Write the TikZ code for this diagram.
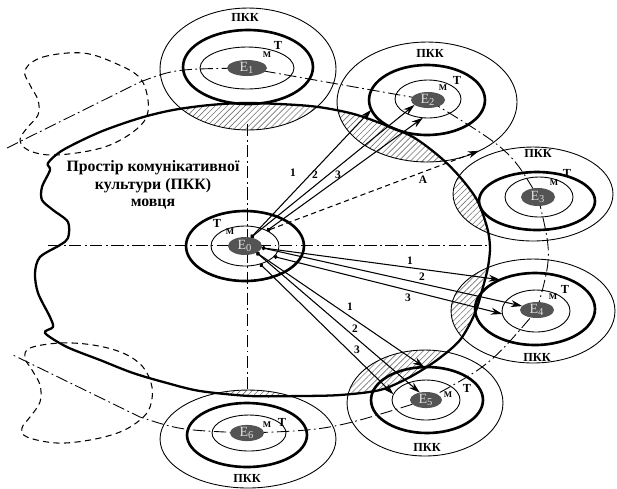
\documentclass[tikz,border=0pt]{standalone}
\usepackage{fontspec}
\setmainfont{Liberation Serif}
\usetikzlibrary{shapes.geometric,arrows.meta,patterns.meta}

\tikzset{
  ring/.style 2 args={draw, ellipse, inner sep=0pt, outer sep=0pt,
    minimum width=#1*0.04cm, minimum height=#2*0.04cm},
  pkkring/.style 2 args={ring={#1}{#2}, line width=0.5pt},
  tring/.style 2 args={ring={#1}{#2}, line width=1.5pt},
  mring/.style 2 args={ring={#1}{#2}, line width=0.5pt},
  core/.style 2 args={ring={#1}{#2}, draw=none, fill=black!67, text=black!12,
    font=\fontsize{8}{8}\selectfont},
  tag/.style={inner sep=0pt, font=\bfseries\fontsize{7}{7}\selectfont},
  mtag/.style={inner sep=0pt, font=\bfseries\fontsize{5}{5}\selectfont},
  numtag/.style={inner sep=0pt, font=\bfseries\fontsize{6.5}{6.5}\selectfont},
  axis/.style={line width=0.5pt, dash pattern=on 7pt off 2pt on 1pt off 2pt},
  ghost/.style={line width=0.6pt, dash pattern=on 3.5pt off 2.5pt},
  link/.style={line width=0.6pt, {Circle[length=2.2pt]}-{Stealth[length=6.5pt,width=4pt]}},
  hatch/.style={pattern={Lines[angle=45,distance=2.4pt,line width=0.35pt]},
    pattern color=black!55},
}

\newcommand{\pkkborder}{plot[smooth cycle, tension=0.5] coordinates {
  (48,163) (63,150) (100,132) (140,118) (173,110) (210,105) (250,103)
  (310,106) (350,113) (380,123) (413,137) (440,157) (460,177) (477,200)
  (487,227) (490,247) (488,267) (483,287) (475,313) (460,340) (437,360)
  (410,377) (380,390) (340,395) (300,396) (250,396) (200,391) (167,383)
  (133,373) (100,360) (67,347) (45,333) (53,327) (50,317) (38,293)
  (35,273) (40,257) (60,245) (68,238) (68,222) (53,210) (42,200)
  (42,187) (50,170)}}

\begin{document}
\begin{tikzpicture}[x=0.02cm, y=-0.02cm]
  \useasboundingbox (0,0) rectangle (617,488);

  % hatched overlaps
  \begin{scope}
    \clip \pkkborder;
    \fill[hatch] (248,69) ellipse [x radius=88, y radius=61];
    \fill[hatch] (427,102) ellipse [x radius=90, y radius=60];
    \fill[hatch] (533,194) ellipse [x radius=80, y radius=47];
    \fill[hatch] (533,311) ellipse [x radius=82, y radius=52];
    \fill[hatch] (425,403) ellipse [x radius=78, y radius=53];
    \fill[hatch] (248,439) ellipse [x radius=88, y radius=49];
  \end{scope}

  % left dashed shapes
  \draw[ghost] plot[smooth cycle, tension=0.6] coordinates {(25,70) (43,57) (83,53)
    (117,64) (140,78) (148,100) (146,118) (133,132) (110,145) (83,152) (50,155)
    (28,150) (20,140) (27,128) (38,115) (38,100) (30,85)};
  \draw[ghost] plot[smooth cycle, tension=0.6] coordinates {(25,358) (30,348) (60,343)
    (93,345) (123,353) (143,367) (152,387) (150,407) (140,420) (120,432) (90,440)
    (57,443) (27,437) (22,428) (30,417) (40,402) (40,385) (32,370)};

  % rings
  \node[pkkring={88}{61}] (p1) at (248,69) {};
  \node[pkkring={90}{60}] (p2) at (427,102) {};
  \node[pkkring={80}{47}] (p3) at (533,194) {};
  \node[pkkring={82}{52}] (p4) at (533,311) {};
  \node[pkkring={78}{53}] (p5) at (425,403) {};
  \node[pkkring={88}{49}] (p6) at (248,439) {};

  \node[tring={59}{35}] (t0) at (245,246) {};
  \node[tring={65}{37}] (t1) at (248,67) {};
  \node[tring={58}{35}] (t2) at (427,100) {};
  \node[tring={58}{29}] (t3) at (537,201) {};
  \node[tring={60}{36}] (t4) at (535,309) {};
  \node[tring={56}{33}] (t5) at (427,400) {};
  \node[tring={60}{32}] (t6) at (247,435) {};

  \node[mring={34}{20}] (m0) at (245,246) {};
  \node[mring={47}{21}] (m1) at (247,68) {};
  \node[mring={33}{19}] (m2) at (428,99) {};
  \node[mring={34}{20}] (m3) at (539,197) {};
  \node[mring={34}{21}] (m4) at (536,311) {};
  \node[mring={34}{20}] (m5) at (426,400) {};
  \node[mring={37}{18}] (m6) at (249,433) {};

  % axes and chain of partners
  \coordinate (axl) at (48,245);
  \coordinate (axr) at (488,245);
  \coordinate (axt) at (247,124);
  \coordinate (axb) at (247,392);
  \coordinate (lt) at (7,148);
  \coordinate (lb) at (13,355);
  \draw[axis] (axl) -- (axr);
  \draw[axis] (axt) -- (axb);
  \draw[axis] (lt) -- (140,82) .. controls (175,69) .. (247,68)
    -- (428,100) .. controls (510,150) .. (538,197)
    .. controls (552,255) .. (537,310) .. controls (490,365) .. (426,400)
    .. controls (330,430) .. (247,433) .. controls (180,430) .. (140,417) -- (lb);

  % speaker's space
  \draw[line width=1.3pt] \pkkborder;

  % cores
  \node[core={17}{9}] (e0) at (245,246) {E\textsubscript{0}};
  \node[core={20}{8}] (e1) at (247,68) {E\textsubscript{1}};
  \node[core={17}{8}] (e2) at (428,100) {E\textsubscript{2}};
  \node[core={17}{9}] (e3) at (538,197) {E\textsubscript{3}};
  \node[core={17}{8}] (e4) at (537,310) {E\textsubscript{4}};
  \node[core={16}{8}] (e5) at (426,400) {E\textsubscript{5}};
  \node[core={17}{7}] (e6) at (247,433) {E\textsubscript{6}};

  % links
  \draw[link] (e0.55) -- (t2.190);
  \draw[link] (e0.55) -- (e2.200);
  \draw[link] (m0.35) -- (m2.-105);
  \draw[link, dash pattern=on 3pt off 2pt] (m0.35) -- (p2.-43);
  \draw[link] (e0.-6) -- (t4.140);
  \draw[link] (e0.-6) -- (e4.165);
  \draw[link] (m0.-20) -- (m4.185);
  \draw[link] (e0.-30) -- (t5.95);
  \draw[link] (e0.-30) -- (e5.130);
  \draw[link] (m0.-50) -- (m5.170);

  % labels
  \node[align=center, inner sep=0pt, font=\bfseries\fontsize{9}{10}\selectfont]
    (title) at (153,185) {Простір комунікативної\\культури (ПКК)\\мовця};
  \node[tag] (pk1) at (245,17) {ПКК};
  \node[tag] (pk2) at (430,53) {ПКК};
  \node[tag] (pk3) at (538,153) {ПКК};
  \node[tag] (pk4) at (537,357) {ПКК};
  \node[tag] (pk5) at (427,447) {ПКК};
  \node[tag] (pk6) at (247,478) {ПКК};
  \node[tag] (lt0) at (217,223) {Т};
  \node[tag] (lt1) at (278,45) {Т};
  \node[tag] (lt2) at (457,80) {Т};
  \node[tag] (lt3) at (567,173) {Т};
  \node[tag] (lt4) at (565,289) {Т};
  \node[tag] (lt5) at (467,388) {Т};
  \node[tag] (lt6) at (282,422) {Т};
  \node[mtag] (lm0) at (230,232) {М};
  \node[mtag] (lm1) at (267,55) {М};
  \node[mtag] (lm2) at (443,88) {М};
  \node[mtag] (lm3) at (554,183) {М};
  \node[mtag] (lm4) at (553,297) {М};
  \node[mtag] (lm5) at (448,395) {М};
  \node[mtag] (lm6) at (267,425) {М};
  \node[numtag] (n21) at (293,173) {1};
  \node[numtag] (n22) at (315,175) {2};
  \node[numtag] (n23) at (338,175) {3};
  \node[numtag] (n2a) at (423,180) {А};
  \node[numtag] (n41) at (410,261) {1};
  \node[numtag] (n42) at (422,277) {2};
  \node[numtag] (n43) at (408,298) {3};
  \node[numtag] (n51) at (350,307) {1};
  \node[numtag] (n52) at (355,329) {2};
  \node[numtag] (n53) at (357,350) {3};
\end{tikzpicture}
\end{document}
